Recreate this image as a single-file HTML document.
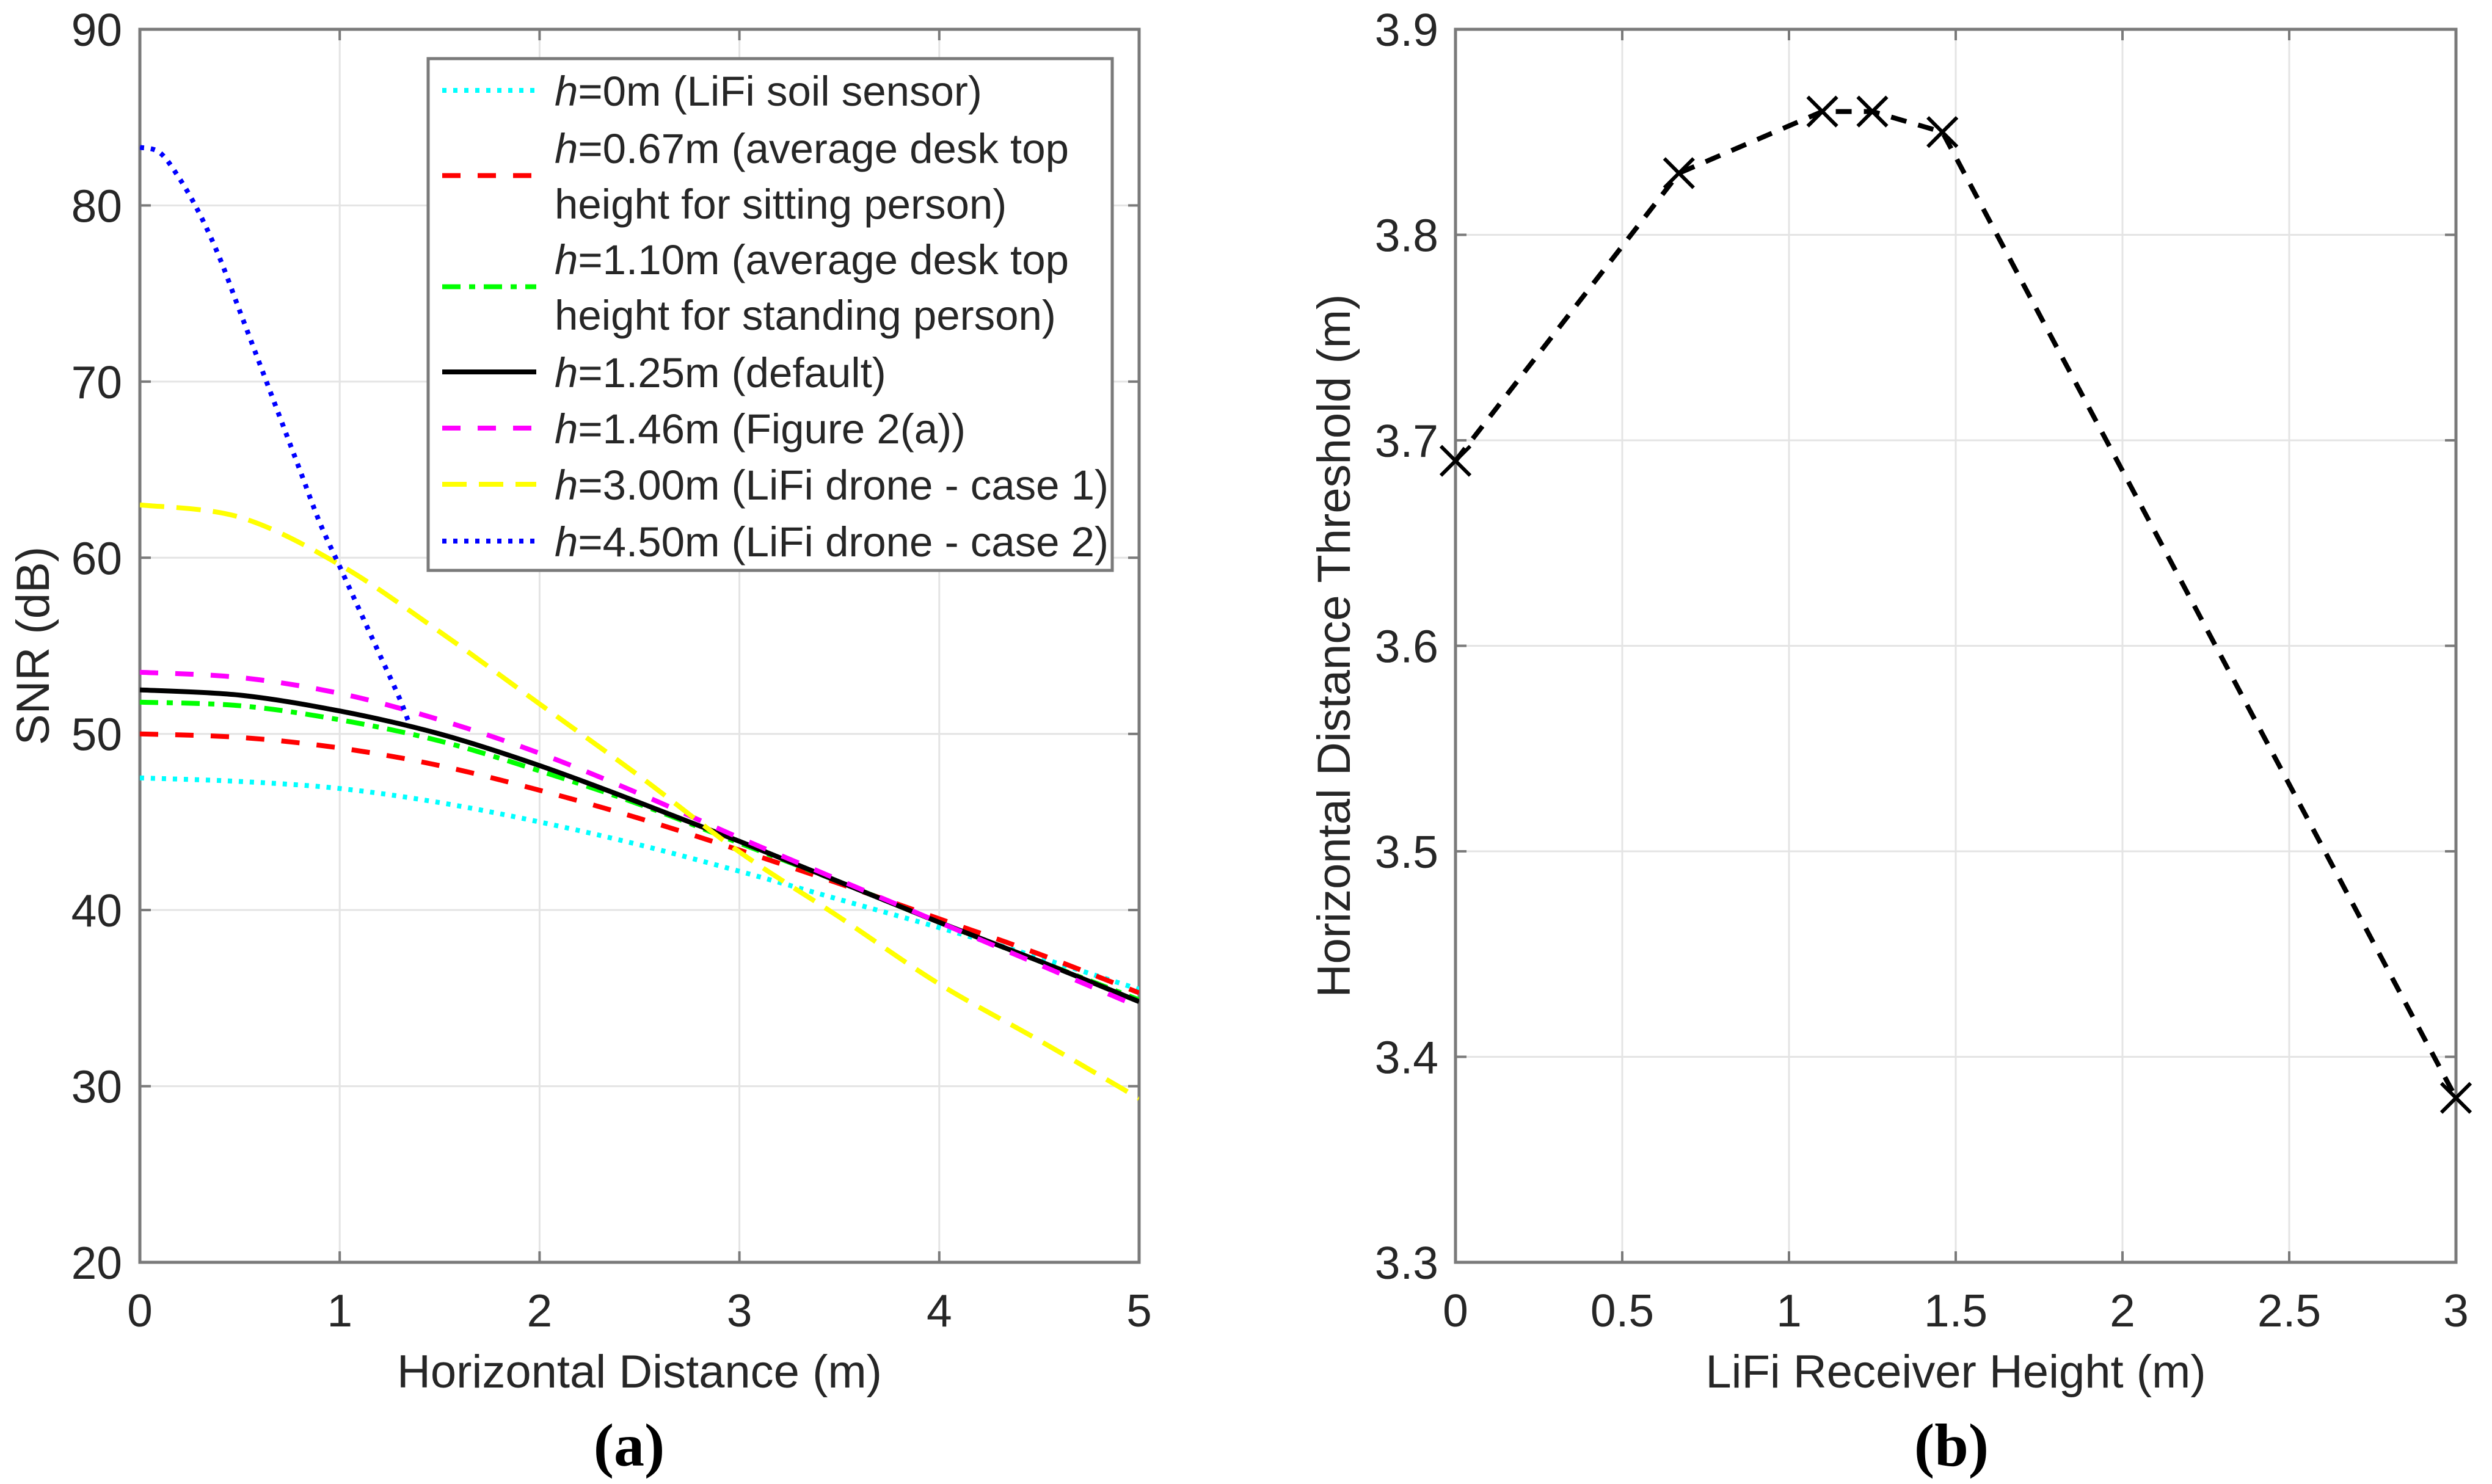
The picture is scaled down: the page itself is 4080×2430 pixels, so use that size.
<!DOCTYPE html>
<html><head><meta charset="utf-8"><style>
html,body{margin:0;padding:0;background:#fff}
svg{display:block}
text{font-family:"Liberation Sans",sans-serif;fill:#262626}
</style></head><body>
<svg id="fig" width="4080" height="2430" viewBox="0 0 4080 2430">
<g id="pa"></g>
<g id="pb"></g>
<text x="1030" y="2400" text-anchor="middle" style="font-family:'Liberation Serif',serif;font-weight:bold;font-size:100px;fill:#000">(a)</text>
<text x="3195" y="2400" text-anchor="middle" style="font-family:'Liberation Serif',serif;font-weight:bold;font-size:100px;fill:#000">(b)</text>
</svg>
<script>
// ---- Plot (a) data ----
const aX = [0,0.5,1,1.5,2,2.5,3,3.5,4,4.5,5];
const aCyan = [47.5,47.3,46.9,46.1,45.0,43.7,42.2,40.6,39.0,37.3,35.5];
const aRed = [50.0,49.8,49.2,48.2,46.8,45.2,43.4,41.5,39.5,37.5,35.3];
const aGreen = [51.8,51.6,50.8,49.6,47.9,46.0,43.8,41.6,39.3,37.1,34.9];
const aBlack = [52.5,52.2,51.3,50.0,48.2,46.1,43.9,41.6,39.3,37.1,34.8];
const aMagenta = [53.5,53.2,52.3,50.8,48.9,46.6,44.1,41.7,39.3,36.9,34.5];
const aYellow = [63.0,62.3,59.6,55.8,51.7,47.6,43.3,39.6,35.8,32.6,29.3];
const blueX = [0,0.1,0.2,0.3,0.4,0.5,0.6,0.7,0.8,0.9,1.0,1.1,1.2,1.3,1.35];
const aBlue = [83.3,83.0,81.5,79.5,77.0,74.0,71.0,68.0,65.0,62.0,59.5,57.0,54.5,52.0,50.5];
const aXTicks = [0,1,2,3,4,5];
const aYTicks = [20,30,40,50,60,70,80,90];
const aLegend = [
 ["h","=0m (LiFi soil sensor)",""],
 ["h","=0.67m (average desk top","height for sitting person)"],
 ["h","=1.10m (average desk top","height for standing person)"],
 ["h","=1.25m (default)",""],
 ["h","=1.46m (Figure 2(a))",""],
 ["h","=3.00m (LiFi drone - case 1)",""],
 ["h","=4.50m (LiFi drone - case 2)",""]
];
// ---- Plot (b) data ----
const bX = [0,0.67,1.1,1.25,1.46,3];
const bY = [3.69,3.83,3.86,3.86,3.85,3.38];
const bXTicks = [0,0.5,1,1.5,2,2.5,3];
const bYTicks = [3.3,3.4,3.5,3.6,3.7,3.8,3.9];

const NS="http://www.w3.org/2000/svg";
function mk(parent,tag,attrs){const e=document.createElementNS(NS,tag);for(const k in attrs)e.setAttribute(k,attrs[k]);parent.appendChild(e);return e;}
function smooth(pts){let d="M"+pts[0][0]+","+pts[0][1];for(let i=0;i<pts.length-1;i++){const p0=pts[Math.max(0,i-1)],p1=pts[i],p2=pts[i+1],p3=pts[Math.min(pts.length-1,i+2)];const c1=[p1[0]+(p2[0]-p0[0])/6,p1[1]+(p2[1]-p0[1])/6],c2=[p2[0]-(p3[0]-p1[0])/6,p2[1]-(p3[1]-p1[1])/6];d+=" C"+c1[0]+","+c1[1]+" "+c2[0]+","+c2[1]+" "+p2[0]+","+p2[1];}return d;}

function axes(g,L,R,T,B,sx,sy,xt,yt,xfmt,yfmt,xtitle,ytitle,ytx,ytitleX){
 xt.forEach(v=>{const x=sx(v);
  const gl=mk(g,"line",{x1:x,x2:x,y1:T,y2:B,stroke:"#e4e4e4","stroke-width":3});
  
  
  mk(g,"line",{x1:x,x2:x,y1:B,y2:B-18,stroke:"#7a7a7a","stroke-width":4});
  mk(g,"line",{x1:x,x2:x,y1:T,y2:T+18,stroke:"#7a7a7a","stroke-width":4});
  const t=mk(g,"text",{x:x,y:B+105,"text-anchor":"middle","font-size":75});t.textContent=xfmt(v);
  
  
 });
 yt.forEach(v=>{const y=sy(v);
  const gl=mk(g,"line",{x1:L,x2:R,y1:y,y2:y,stroke:"#e4e4e4","stroke-width":3});
  
  
  mk(g,"line",{x1:L,x2:L+18,y1:y,y2:y,stroke:"#7a7a7a","stroke-width":4});
  mk(g,"line",{x1:R,x2:R-18,y1:y,y2:y,stroke:"#7a7a7a","stroke-width":4});
  const t=mk(g,"text",{x:ytx,y:y+27,"text-anchor":"end","font-size":75});t.textContent=yfmt(v);
  
  
 });
 const box=mk(g,"rect",{x:L,y:T,width:R-L,height:B-T,fill:"none",stroke:"#7a7a7a","stroke-width":5});
 
 
 const xtEl=mk(g,"text",{x:(L+R)/2,y:B+205,"text-anchor":"middle","font-size":76});xtEl.textContent=xtitle;
 
 
 const cy=(T+B)/2;
 const ytEl=mk(g,"text",{x:ytitleX,y:cy,"text-anchor":"middle","font-size":76,transform:"rotate(-90 "+ytitleX+" "+cy+")"});ytEl.textContent=ytitle;
 
 
}

// Plot (a)
(function(){
 const g=document.getElementById("pa");
 const L=229,R=1865,T=48,B=2067;
 const sx=v=>L+(v-0)/(5-0)*(R-L), sy=v=>B-(v-20)/(90-20)*(B-T);
 axes(g,L,R,T,B,sx,sy,aXTicks,aYTicks,v=>String(v),v=>String(v),"Horizontal Distance (m)","SNR (dB)",200,80);
 const series=[
  ["series-cyan-h0",aX,aCyan,"#00ffff","7 11"],
  ["series-red-h067",aX,aRed,"#ff0000","30 28"],
  ["series-green-h110",aX,aGreen,"#00ff00","30 14 10 14"],
  ["series-black-h125",aX,aBlack,"#000000","none"],
  ["series-magenta-h146",aX,aMagenta,"#ff00ff","30 28"],
  ["series-yellow-h300",aX,aYellow,"#ffff00","40 20"],
  ["series-blue-h450",blueX,aBlue,"#0000ff","7 11"]
 ];
 const clip=mk(g,"clipPath",{id:"ca"});mk(clip,"rect",{x:L,y:T,width:R-L,height:B-T});
 series.forEach(s=>{
  const pts=s[1].map((x,i)=>[sx(x),sy(s[2][i])]);
  const p=mk(g,"path",{d:smooth(pts),fill:"none",stroke:s[3],"stroke-width":8,"stroke-dasharray":s[4],"clip-path":"url(#ca)"});
  
  
 });
 // legend
 const lg=mk(g,"g",{});
 
 
 mk(lg,"rect",{x:701,y:96,width:1120,height:838,fill:"#fff",stroke:"#7a7a7a","stroke-width":5});
 const rows=[[148,null],[242,333],[424,515],[609,null],[701,null],[793,null],[886,null]];
 aLegend.forEach((e,i)=>{
  const r=rows[i];const ly=r[1]?(r[0]+r[1])/2:r[0];
  const ln=mk(lg,"line",{x1:724,x2:878,y1:ly,y2:ly,stroke:series[i][3],"stroke-width":8,"stroke-dasharray":series[i][4]});
  
  
  const t=mk(lg,"text",{x:908,y:r[0]+25,"font-size":69});
  
  
  const it=mk(t,"tspan",{"font-style":"italic"});it.textContent=e[0];
  const rest=mk(t,"tspan",{});rest.textContent=e[1];
  if(r[1]){const t2=mk(lg,"text",{x:908,y:r[1]+25,"font-size":69});t2.textContent=e[2];
   
   }
 });
})();

// Plot (b)
(function(){
 const g=document.getElementById("pb");
 const L=2383,R=4021,T=48,B=2067;
 const sx=v=>L+(v-0)/(3-0)*(R-L), sy=v=>B-(v-3.3)/(3.9-3.3)*(B-T);
 axes(g,L,R,T,B,sx,sy,bXTicks,bYTicks,v=>String(v),v=>v.toFixed(1),"LiFi Receiver Height (m)","Horizontal Distance Threshold (m)",2355,2210);
 const d=bX.map((x,i)=>(i?"L":"M")+sx(x)+","+sy(bY[i])).join(" ");
 const p=mk(g,"path",{d:d,fill:"none",stroke:"#000","stroke-width":8,"stroke-dasharray":"26 20"});
 
 
 bX.forEach((x,i)=>{const cx=sx(x),cy=sy(bY[i]),s=24;
  const m=mk(g,"path",{d:`M${cx-s},${cy-s}L${cx+s},${cy+s}M${cx-s},${cy+s}L${cx+s},${cy-s}`,stroke:"#000","stroke-width":6,fill:"none"});
  
  
 });
})();
</script>
</body></html>
